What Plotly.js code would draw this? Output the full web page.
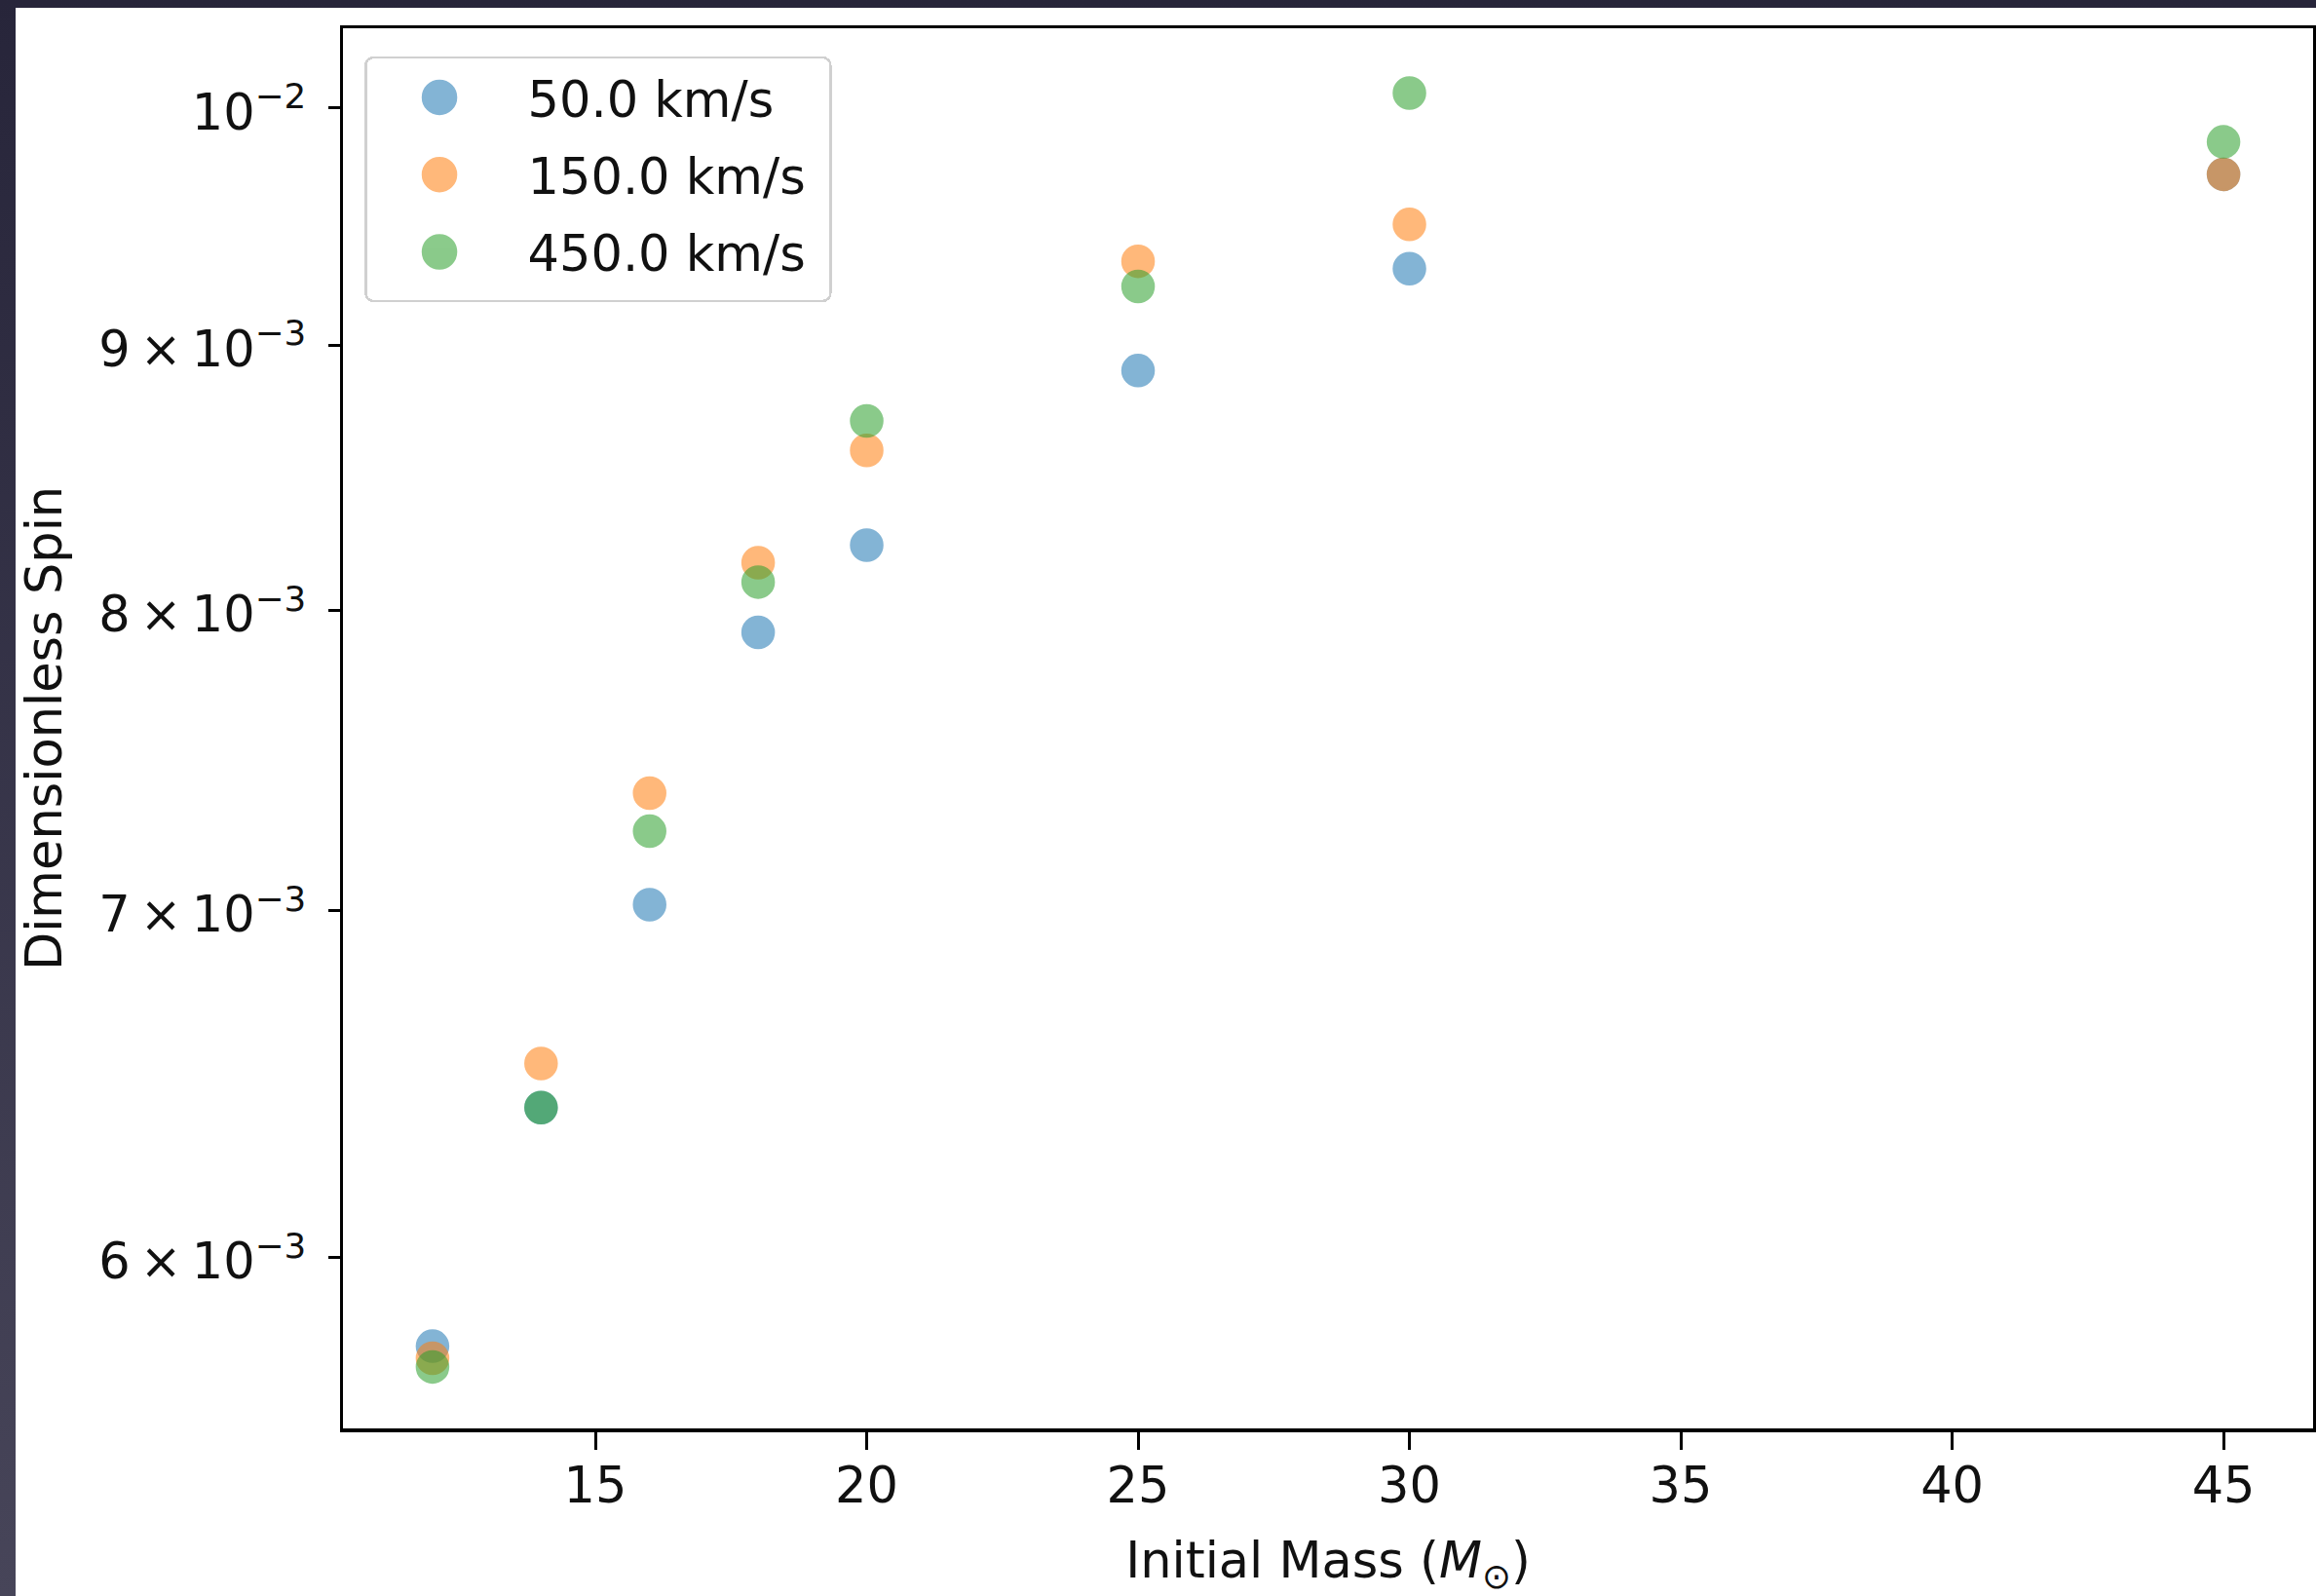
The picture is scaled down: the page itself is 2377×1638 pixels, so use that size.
<!DOCTYPE html>
<html>
<head>
<meta charset="utf-8">
<script src="https://cdn.plot.ly/plotly-3.0.1.min.js"></script>
<style>
  html, body { margin: 0; padding: 0; }
  body { width: 2377px; height: 1638px; background: linear-gradient(to bottom, #27253a, #474559); position: relative; overflow: hidden; }
  #chart { position: absolute; left: 16px; top: 8px; width: 2361px; height: 1630px; background: #fff; }
</style>
</head>
<body>
<div id="chart"></div>
<script>
// Initial mass (solar masses)
const masses = [12, 14, 16, 18, 20, 25, 30, 45];
// Dimensionless spin for each kick velocity
const spin50  = [0.005768, 0.006413, 0.007018, 0.007921, 0.008234, 0.008898, 0.009310, 0.009709];
const spin150 = [0.005737, 0.006540, 0.007375, 0.008170, 0.008588, 0.009341, 0.009495, 0.009709];
const spin450 = [0.005715, 0.006413, 0.007251, 0.008100, 0.008701, 0.009237, 0.010066, 0.009850];
const seriesNames = ['50.0 km/s', '150.0 km/s', '450.0 km/s'];
const seriesColors = ['#1f77b4', '#ff7f0e', '#2ca02c'];
const xTicks = [15, 20, 25, 30, 35, 40, 45];
const yTickVals = [0.006, 0.007, 0.008, 0.009, 0.01];
const yTickText = ['6\u2009×\u200910<sup>−3</sup>', '7\u2009×\u200910<sup>−3</sup>', '8\u2009×\u200910<sup>−3</sup>', '9\u2009×\u200910<sup>−3</sup>', '10<sup>−2</sup>'];

const FONT = 'DejaVu Sans, Liberation Sans, sans-serif';
const allY = [spin50, spin150, spin450];

const traces = allY.map((ys, i) => ({
  type: 'scatter',
  mode: 'markers',
  x: masses,
  y: ys,
  name: seriesNames[i],
  legendgroup: 'g' + i,
  marker: {
    color: seriesColors[i],
    size: 32,
    opacity: 0.55,
    line: { color: seriesColors[i], width: 2.5 }
  }
}));

const layout = {
  width: 2361,
  height: 1630,
  paper_bgcolor: '#ffffff',
  plot_bgcolor: '#ffffff',
  margin: { l: 336, r: 3, t: 21, b: 172, pad: 0 },
  font: { family: FONT, size: 51, color: '#111111' },
  showlegend: true,
  legend: {
    x: 0.0109, y: 0.98, xanchor: 'left', yanchor: 'top',
    bgcolor: 'rgba(255,255,255,0.8)',
    bordercolor: '#d0d0d0', borderwidth: 2.5,
    font: { family: FONT, size: 51, color: '#111111' },
    tracegroupgap: 10,
    itemwidth: 155
  },
  xaxis: {
    range: [10.35, 46.65],
    tickvals: xTicks,
    ticktext: xTicks.map(String),
    ticks: 'outside', ticklen: 18, tickwidth: 3, tickcolor: '#000',
    showline: true, linecolor: '#000', linewidth: 3.5, mirror: true,
    showgrid: false, zeroline: false,
    tickfont: { family: FONT, size: 51, color: '#111111' },
    ticklabelstandoff: 0,
    title: { text: 'Initial Mass (<i>M</i><sub>⊙</sub>)', font: { family: FONT, size: 51, color: '#111111' }, standoff: 25 }
  },
  yaxis: {
    type: 'log',
    range: [Math.log10(0.005561), Math.log10(0.010360)],
    tickvals: yTickVals,
    ticktext: yTickText,
    ticks: 'outside', ticklen: 12, tickwidth: 3, tickcolor: '#000',
    showline: true, linecolor: '#000', linewidth: 3.5, mirror: true,
    showgrid: false, zeroline: false,
    tickfont: { family: FONT, size: 51, color: '#111111' },
    ticklabelstandoff: 12,
    title: { text: 'Dimensionless Spin', font: { family: FONT, size: 51, color: '#111111' }, standoff: 40 }
  }
};

function shiftTexts(sel, dx, dy) {
  document.querySelectorAll(sel).forEach(t => {
    const tr = t.getAttribute('transform') || '';
    t.setAttribute('transform', tr + ' translate(' + dx + ',' + dy + ')');
  });
}

Plotly.newPlot('chart', traces, layout, { displayModeBar: false, staticPlot: true }).then(() => {
  const r = 17, cx = -8;
  document.querySelectorAll('#chart .legend .legendpoints path.scatterpts').forEach(p => {
    p.setAttribute('d', 'M' + (cx + r) + ',0A' + r + ',' + r + ' 0 1,1 ' + cx + ',-' + r + 'A' + r + ',' + r + ' 0 0,1 ' + (cx + r) + ',0Z');
  });
  const bg = document.querySelector('#chart .legend rect.bg');
  if (bg) {
    bg.setAttribute('width', 477);
    bg.setAttribute('height', 250);
    bg.setAttribute('rx', 8);
    bg.setAttribute('ry', 8);
  }
  shiftTexts('#chart .xtick text', 0, -7);
  shiftTexts('#chart .ytick text', 0, 4);
});
</script>
</body>
</html>
